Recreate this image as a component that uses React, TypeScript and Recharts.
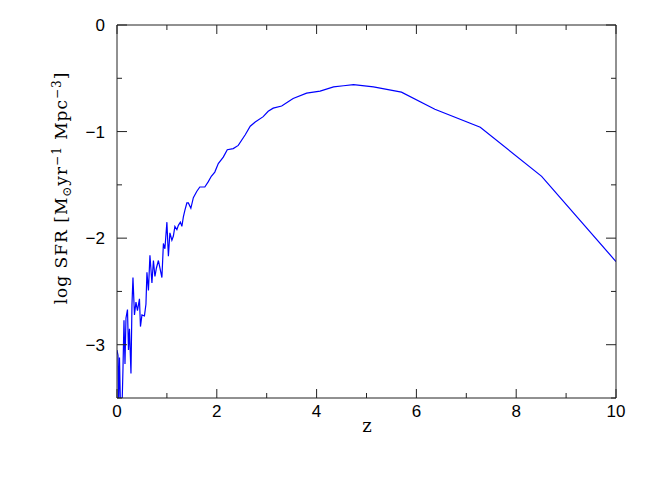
import React from "react";
import { LineChart, Line, XAxis, YAxis } from "recharts";

const zValues = [
  0.0, 0.02, 0.03, 0.05, 0.07, 0.1, 0.12, 0.14, 0.16, 0.18, 0.21, 0.23, 0.25, 0.28, 0.3, 0.32, 0.35, 0.38,
  0.41, 0.45, 0.47, 0.5, 0.55, 0.58, 0.6, 0.63, 0.66, 0.7, 0.73, 0.76, 0.79, 0.83, 0.86, 0.9, 0.93, 0.96,
  1.0, 1.03, 1.06, 1.1, 1.13, 1.16, 1.2, 1.23, 1.27, 1.3, 1.33, 1.36, 1.4, 1.43, 1.48, 1.53, 1.6, 1.66,
  1.76, 1.83, 1.89, 1.96, 2.03, 2.13, 2.21, 2.33, 2.43, 2.57, 2.67, 2.77, 2.93, 3.03, 3.13, 3.3, 3.43,
  3.53, 3.8, 4.07, 4.34, 4.54, 4.74, 5.14, 5.7, 6.37, 7.28, 8.51, 10.0,
];

const sfrValues = [
  -3.05, -3.1, -3.6, -3.12, -3.6, -3.6, -3.22, -2.77, -3.18, -2.75, -2.67, -3.05, -2.85, -3.27, -2.62,
  -2.37, -2.72, -2.6, -2.68, -2.57, -2.83, -2.72, -2.73, -2.62, -2.32, -2.49, -2.16, -2.42, -2.21, -2.36,
  -2.28, -2.21, -2.28, -2.37, -2.05, -2.1, -1.85, -2.17, -1.95, -2.02, -1.98, -1.89, -1.92, -1.88, -1.85,
  -1.89, -1.8, -1.74, -1.67, -1.67, -1.72, -1.62, -1.56, -1.52, -1.52, -1.47, -1.42, -1.38, -1.3, -1.24,
  -1.17, -1.16, -1.13, -1.03, -0.95, -0.91, -0.86, -0.81, -0.78, -0.76, -0.72, -0.69, -0.64, -0.62,
  -0.58, -0.57, -0.56, -0.58, -0.63, -0.79, -0.96, -1.42, -2.22,
];

const xTicks = [0, 1, 2, 3, 4, 5, 6, 7, 8, 9, 10];
const yTicks = [0, -0.5, -1, -1.5, -2, -2.5, -3, -3.5];

const data = zValues.map((z, i) => ({ z, sfr: sfrValues[i] }));

const FONT = "'DejaVu Serif', 'Liberation Serif', serif";
const TICK_FONT = "'Liberation Sans', Arial, sans-serif";
const AXIS_COLOR = "#222";

const fmt = (v: number) => (v < 0 ? "\u2212" + Math.abs(v) : String(v));

const BottomTick = (props: any) => {
  const { x, y, payload } = props;
  const v = payload.value;
  const major = v % 2 === 0;
  return (
    <g>
      <line x1={x} y1={y} x2={x} y2={y - (major ? 9 : 5)} stroke={AXIS_COLOR} strokeWidth={1} />
      {major && (
        <text x={x} y={y + 19} textAnchor="middle" fontFamily={TICK_FONT} fontSize={17} fill="#000">
          {fmt(v)}
        </text>
      )}
    </g>
  );
};

const TopTick = (props: any) => {
  const { x, y, payload } = props;
  const major = payload.value % 2 === 0;
  return <line x1={x} y1={y} x2={x} y2={y + (major ? 9 : 5)} stroke={AXIS_COLOR} strokeWidth={1} />;
};

const LeftTick = (props: any) => {
  const { x, y, payload } = props;
  const v = payload.value;
  const major = Number.isInteger(v);
  return (
    <g>
      <line x1={x} y1={y} x2={x + (major ? 10 : 5)} y2={y} stroke={AXIS_COLOR} strokeWidth={1} />
      {major && v > -3.5 && (
        <text x={x - 12} y={y + 6} textAnchor="end" fontFamily={TICK_FONT} fontSize={17} fill="#000">
          {fmt(v)}
        </text>
      )}
    </g>
  );
};

const RightTick = (props: any) => {
  const { x, y, payload } = props;
  const major = Number.isInteger(payload.value);
  return <line x1={x} y1={y} x2={x - (major ? 10 : 5)} y2={y} stroke={AXIS_COLOR} strokeWidth={1} />;
};

const YLabel = () => (
  <text
    x={59}
    y={180}
    transform="rotate(-90 59 180)"
    textAnchor="middle"
    fontFamily={FONT}
    fontSize={17}
    letterSpacing={1}
    fill="#000"
  >
    log SFR [M
    <tspan fontSize={12} dy={4}>{"\u2299"}</tspan>
    <tspan dy={-4}>yr</tspan>
    <tspan fontSize={12} dy={-6}>{"\u22121"}</tspan>
    <tspan dy={6}>{"  Mpc"}</tspan>
    <tspan fontSize={12} dy={-6}>{"\u22123"}</tspan>
    <tspan dy={6}>]</tspan>
  </text>
);

const XLabel = () => (
  <text x={359} y={424} textAnchor="middle" fontFamily={FONT} fontSize={18} fill="#000">
    z
  </text>
);

export default function App() {
  return (
    <LineChart width={640} height={475} data={data} margin={{ top: 0, right: 0, bottom: 55, left: 0 }}>
      <XAxis
        xAxisId="bottom"
        dataKey="z"
        type="number"
        domain={[0, 10]}
        ticks={xTicks}
        allowDataOverflow
        orientation="bottom"
        height={30}
        tickSize={0}
        tickMargin={0}
        tick={<BottomTick />}
        axisLine={{ stroke: AXIS_COLOR }}
        tickLine={false}
        interval={0}
        label={<XLabel />}
      />
      <XAxis
        xAxisId="top"
        dataKey="z"
        type="number"
        domain={[0, 10]}
        ticks={xTicks}
        allowDataOverflow
        orientation="top"
        height={17}
        tickSize={0}
        tickMargin={0}
        tick={<TopTick />}
        axisLine={{ stroke: AXIS_COLOR }}
        tickLine={false}
        interval={0}
      />
      <YAxis
        yAxisId="left"
        type="number"
        domain={[-3.5, 0]}
        ticks={yTicks}
        allowDataOverflow
        orientation="left"
        width={109}
        tickSize={0}
        tickMargin={0}
        tick={<LeftTick />}
        axisLine={{ stroke: AXIS_COLOR }}
        tickLine={false}
        interval={0}
        label={<YLabel />}
      />
      <YAxis
        yAxisId="right"
        type="number"
        domain={[-3.5, 0]}
        ticks={yTicks}
        allowDataOverflow
        orientation="right"
        width={32}
        tickSize={0}
        tickMargin={0}
        tick={<RightTick />}
        axisLine={{ stroke: AXIS_COLOR }}
        tickLine={false}
        interval={0}
      />
      <Line
        xAxisId="bottom"
        yAxisId="left"
        dataKey="sfr"
        type="linear"
        stroke="#0000ff"
        strokeWidth={1.2}
        dot={false}
        isAnimationActive={false}
      />
      <Line
        xAxisId="top"
        yAxisId="right"
        dataKey="sfr"
        type="linear"
        stroke="none"
        dot={false}
        isAnimationActive={false}
      />
    </LineChart>
  );
}
